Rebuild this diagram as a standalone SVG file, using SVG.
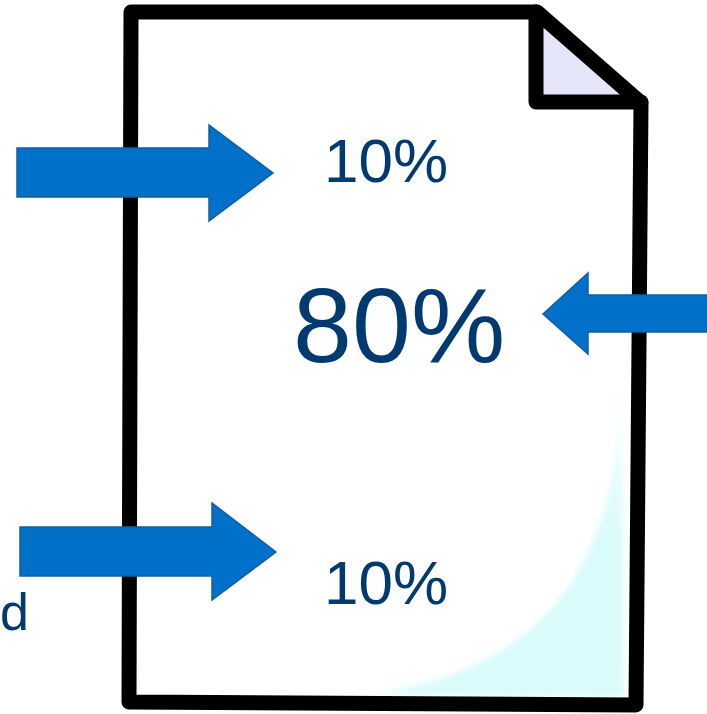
<svg xmlns="http://www.w3.org/2000/svg" width="707" height="714" viewBox="0 0 707 714">
<style>
.t{font-family:"Liberation Sans",Arial,sans-serif;fill:#003a70}
.a{fill:#0070c9;stroke:#125f9e;stroke-width:1.5}
.o{fill:none;stroke:#000;stroke-width:15;stroke-linejoin:round;stroke-linecap:round}
</style>
<defs>
<linearGradient id="g" gradientUnits="userSpaceOnUse" x1="0" y1="340" x2="0" y2="540"><stop offset="0" stop-color="#fff"/><stop offset="1" stop-color="#d9fbfc"/></linearGradient>
<filter id="b" x="-10%" y="-10%" width="120%" height="120%"><feGaussianBlur stdDeviation="3"/></filter>
</defs>
<rect width="707" height="714" fill="#fff"/>
<g id="page">
<path d="M131 12H537L641 103L636 705L129 702Z" fill="#fff"/>
<path d="M622 340C622 500 600 660 370 695L624 697Z" fill="url(#g)" filter="url(#b)"/>
<path d="M536 12V102H641Z" fill="#e6e6fa"/>
<path class="o" d="M131 12H537L641 103L636 705L129 702Z"/>
<path class="o" d="M536 12V102H641"/>
</g>
<g id="connectors">
<path id="arrow-top" class="a" d="M17 148H209V125L273 173L209 221V197H17Z"/>
<path id="arrow-right" class="a" d="M707 295H588V273L543 314L588 354V332H707Z"/>
<path id="arrow-bottom" class="a" d="M20 527H212V503L276 552L212 600V576H20Z"/>
</g>
<g id="label-top"><text class="t" x="324" y="182" font-size="62">10%</text></g>
<g id="label-center"><text class="t" x="293" y="362" font-size="106">80%</text></g>
<g id="label-bottom"><text class="t" x="324" y="604" font-size="62">10%</text></g>
<g id="label-fragment"><text class="t" x="0" y="630" font-size="52">d</text></g>
</svg>
